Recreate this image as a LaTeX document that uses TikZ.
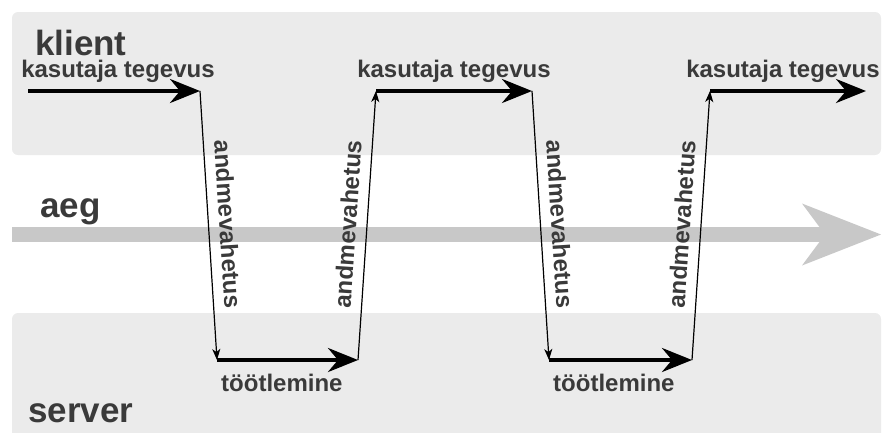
\documentclass[tikz,border=0pt]{standalone}
\usepackage{fontspec}
\setmainfont{Liberation Sans}
\usetikzlibrary{arrows.meta,positioning}
\definecolor{bandGrey}{RGB}{235,235,235}
\definecolor{axisGrey}{RGB}{200,200,200}
\definecolor{inkGrey}{RGB}{58,58,58}

\begin{document}
\begin{tikzpicture}[
    x=1pt,y=-1pt,
    band/.style={fill=bandGrey,rounded corners=6pt},
    title/.style={font=\fontsize{35}{35}\selectfont\bfseries,text=inkGrey,inner sep=0pt,anchor=base west},
    lbl/.style={font=\fontsize{24}{24}\selectfont\bfseries,text=inkGrey,inner sep=0pt},
    msglbl/.style={lbl,sloped,anchor=south,inner ysep=10pt},
    act/.style={-{Stealth[length=30pt,width=24pt,inset=10pt]},line width=4pt},
    msg/.style={-{Stealth[length=11pt,width=8pt,inset=3pt]},line width=1.2pt}
  ]
    \useasboundingbox (0,0) rectangle (882,432);
    \clip (0,0) rectangle (882,432);
    % client and server lanes
    \fill[band] (12,12) rectangle (881,155);
    \fill[band] (12,313) rectangle (881,450);
    % time axis
    \coordinate (t0) at (12,234.5);
    \coordinate (t1) at (881,234.5);
    \draw[axisGrey,line width=15pt,-{Stealth[length=79pt,width=62pt,inset=23pt,line width=0pt]}] (t0) -- (t1);
    \node[title] (klient) at (35,55) {klient};
    \node[title] (aeg) at (40,217) {aeg};
    \node[title] (server) at (28,422) {server};
    % corners of the zigzag
    \coordinate (c1a) at (28,91);   \coordinate (c1b) at (200,91);
    \coordinate (s1a) at (217,360); \coordinate (s1b) at (358,360);
    \coordinate (c2a) at (376,91);  \coordinate (c2b) at (532,91);
    \coordinate (s2a) at (549,360); \coordinate (s2b) at (692,360);
    \coordinate (c3a) at (710,91);  \coordinate (c3b) at (866,91);
    \draw[act] (c1a) -- node[lbl,above=6pt,xshift=4pt] (act1) {kasutaja tegevus} (c1b);
    \draw[act] (c2a) -- node[lbl,above=6pt] (act2) {kasutaja tegevus} (c2b);
    \draw[act] (c3a) -- node[lbl,above=6pt,xshift=-5pt] (act3) {kasutaja tegevus} (c3b);
    \draw[act] (s1a) -- (s1b);
    \draw[act] (s2a) -- (s2b);
    \node[lbl,below right=14pt and 4pt of s1a] (proc1) {töötlemine};
    \node[lbl,below right=14pt and 4pt of s2a] (proc2) {töötlemine};
    \draw[msg] (c1b) -- node[msglbl] (req1) {andmevahetus} (s1a);
    \draw[msg] (s1b) -- node[msglbl] (resp1) {andmevahetus} (c2a);
    \draw[msg] (c2b) -- node[msglbl] (req2) {andmevahetus} (s2a);
    \draw[msg] (s2b) -- node[msglbl] (resp2) {andmevahetus} (c3a);
  \end{tikzpicture}
\end{document}
